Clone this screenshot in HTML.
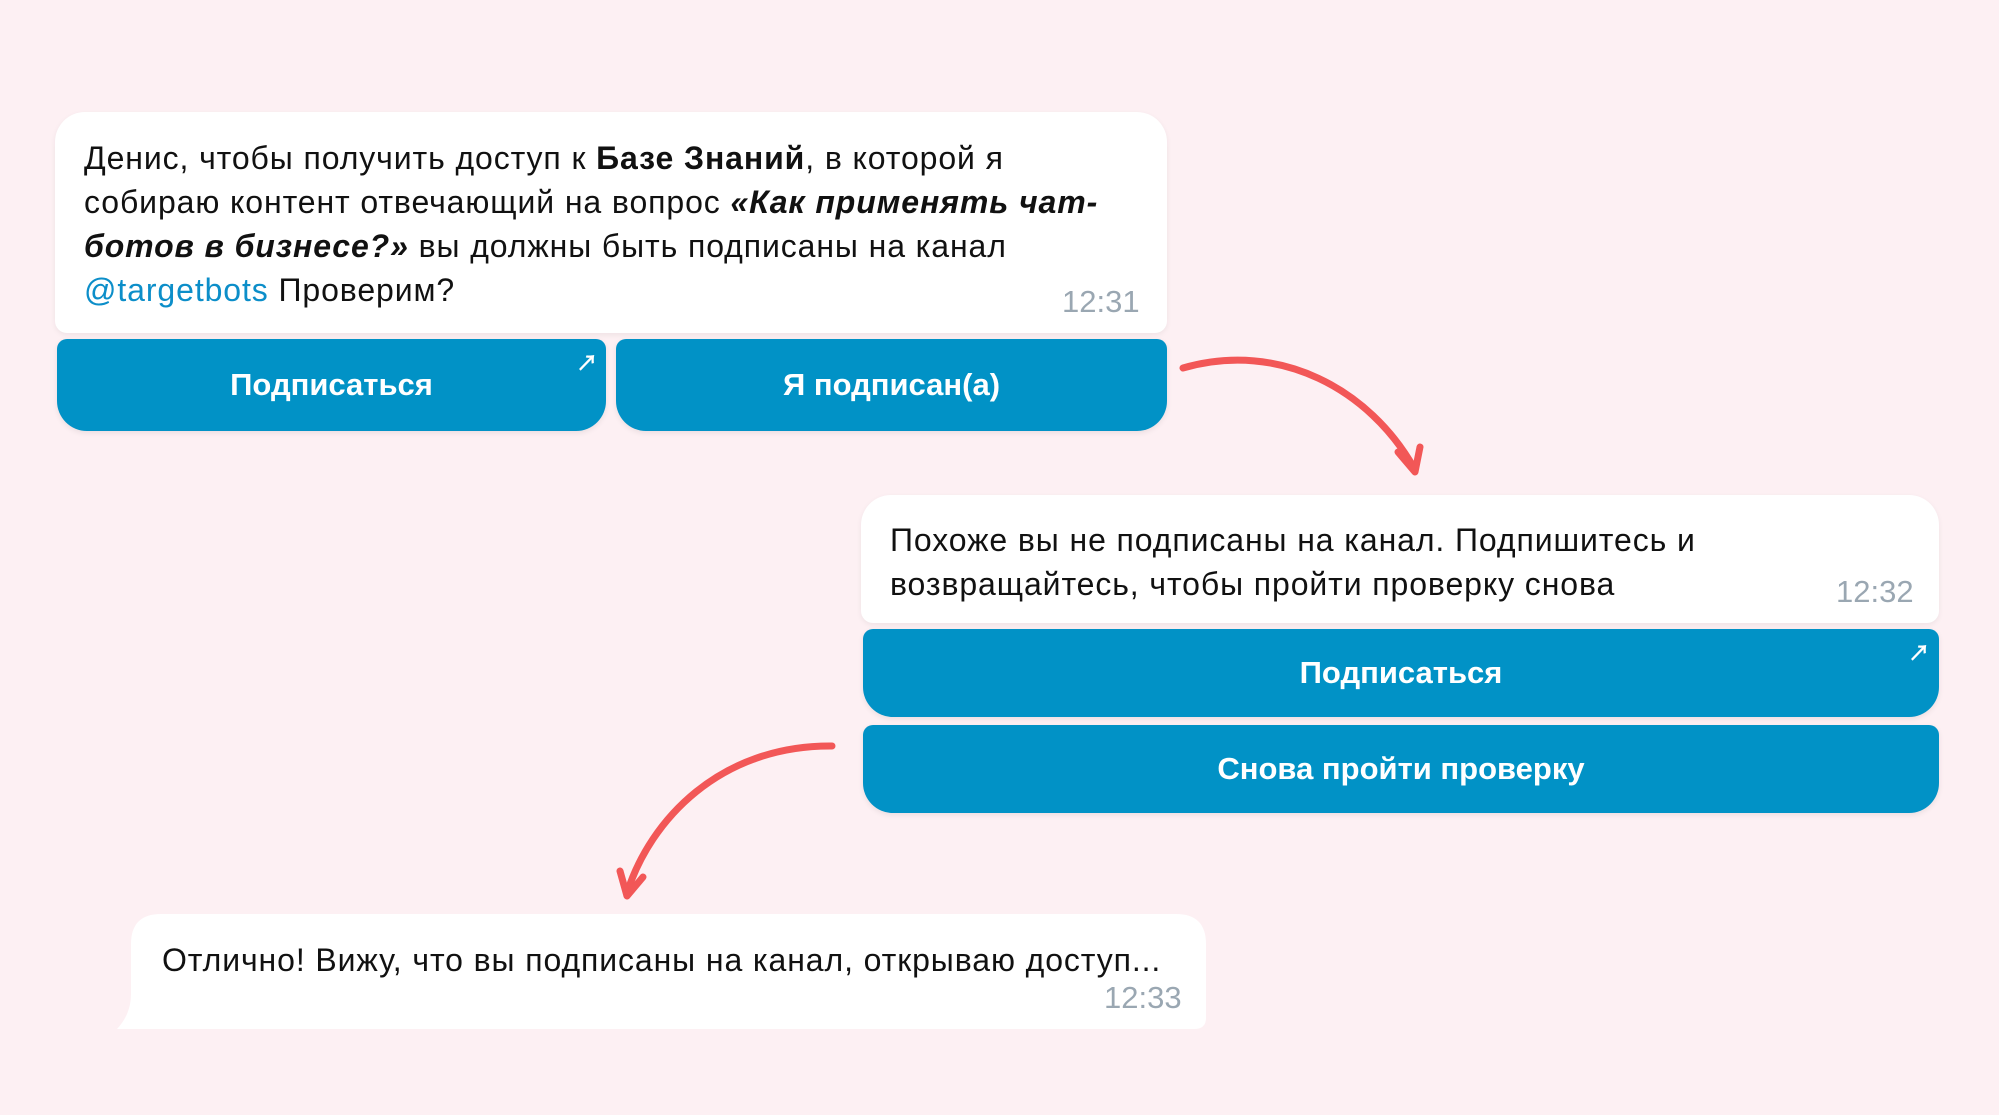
<!DOCTYPE html>
<html><head><meta charset="utf-8"><style>
*{margin:0;padding:0;box-sizing:border-box}
body{width:1999px;height:1115px;background:#fdf0f3;position:relative;overflow:hidden;font-family:"Liberation Sans","Noto Sans CJK SC",sans-serif;color:#111}
.b{position:absolute;background:#fff;border-radius:30px 30px 12px 12px;box-shadow:0 2px 6px rgba(0,0,0,.06)}
.t{position:absolute;font-size:32px;line-height:44px;white-space:nowrap;letter-spacing:0.9px}
.tm{position:absolute;font-size:31px;color:#9aa7b2}
.btn{position:absolute;background:#0192c6;color:#fff;font-weight:bold;font-size:31px;display:flex;align-items:center;justify-content:center;border-radius:10px 10px 30px 30px;box-shadow:0 2px 6px rgba(0,0,0,.08)}
.ar{position:absolute;color:#fff;font-size:22px;font-weight:bold}
a{color:#0c8ec9;text-decoration:none}
</style></head><body>
<div class="b" style="left:55px;top:112px;width:1112px;height:221px"></div>
<div class="t" style="left:84px;top:136px">Денис, чтобы получить доступ к <b>Базе Знаний</b>, в которой я<br>собираю контент отвечающий на вопрос <b><i>«Как применять чат-</i></b><br><b><i>ботов в бизнесе?»</i></b> вы должны быть подписаны на канал<br><a>@targetbots</a> Проверим?</div>
<div class="tm" style="left:1062px;top:284px">12:31</div>
<div class="btn" style="left:57px;top:339px;width:549px;height:92px">Подписаться</div>
<div class="ar" style="left:576px;top:346px">↗</div>
<div class="btn" style="left:616px;top:339px;width:551px;height:92px">Я подписан(а)</div>

<div class="b" style="left:861px;top:495px;width:1078px;height:128px"></div>
<div class="t" style="left:890px;top:518px">Похоже вы не подписаны на канал. Подпишитесь и<br>возвращайтесь, чтобы пройти проверку снова</div>
<div class="tm" style="left:1836px;top:574px">12:32</div>
<div class="btn" style="left:863px;top:629px;width:1076px;height:88px">Подписаться</div>
<div class="ar" style="left:1908px;top:636px">↗</div>
<div class="btn" style="left:863px;top:725px;width:1076px;height:88px">Снова пройти проверку</div>

<svg style="position:absolute;left:117px;top:914px" width="1090" height="116"><path d="M44 0 H1059 Q1089 0 1089 30 V104 Q1089 115 1077 115 H0 Q14 100 14 80 V30 Q14 0 44 0 Z" fill="#fff"/></svg>
<div class="t" style="left:162px;top:938px">Отлично! Вижу, что вы подписаны на канал, открываю доступ...</div>
<div class="tm" style="left:1104px;top:980px">12:33</div>

<svg style="position:absolute;left:0;top:0" width="1999" height="1115" fill="none" stroke="#f25757" stroke-width="7" stroke-linecap="round" stroke-linejoin="round">
<path d="M1183 368 C1280 340 1370 390 1414 468"/>
<path d="M1398 452 L1415 472 L1420 447"/>
<path d="M832 746 C720 745 650 820 627 893"/>
<path d="M620 871 L627 896 L643 877"/>
</svg>
</body></html>
